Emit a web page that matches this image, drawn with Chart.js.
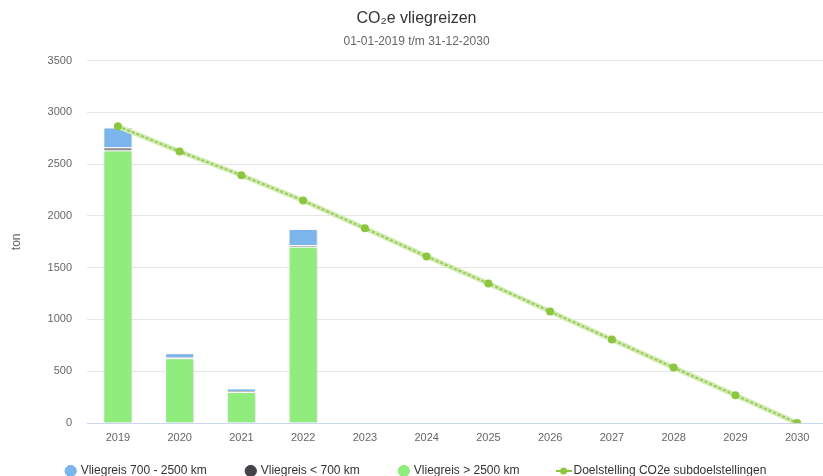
<!DOCTYPE html>
<html>
<head>
<meta charset="utf-8">
<script src="https://cdn.jsdelivr.net/npm/chart.js@4.4.0/dist/chart.umd.min.js"></script>
<style>
  html, body { margin: 0; padding: 0; background: #fff; overflow: hidden; }
</style>
</head>
<body>
<canvas id="grafiek" width="848" height="476"></canvas>
<script>
// --- data ---
const jaren = ['2019', '2020', '2021', '2022', '2023', '2024', '2025', '2026', '2027', '2028', '2029', '2030'];
const vlucht700tot2500 = [190, 40, 24, 156, null, null, null, null, null, null, null, null];
const vluchtOnder700 = [32, 8, 8, 15, null, null, null, null, null, null, null, null];
const vluchtBoven2500 = [2632, 625, 300, 1703, null, null, null, null, null, null, null, null];
const doelstelling = [2865, 2622, 2393, 2148, 1880, 1609, 1348, 1077, 806, 535, 269, 0];
const yMax = 3500;
const yStap = 500;

const lettertype = '"Liberation Sans", Arial, Helvetica, sans-serif';
const groen = '#8cc63f';

// symbool voor de lijn in de legenda: streepje met bolletje
const lijnSymbool = document.createElement('canvas');
lijnSymbool.width = 16;
lijnSymbool.height = 10;
(function () {
    const c = lijnSymbool.getContext('2d');
    c.strokeStyle = groen;
    c.lineWidth = 2;
    c.beginPath(); c.moveTo(0, 5); c.lineTo(16, 5); c.stroke();
    c.fillStyle = groen;
    c.beginPath(); c.arc(8, 5, 3.5, 0, Math.PI * 2); c.fill();
})();

// schaduw rond de kolommen (zoals Highcharts)
const kolomSchaduw = {
    id: 'kolomSchaduw',
    beforeDatasetDraw(chart, args) {
        if (args.meta.type !== 'bar') return;
        const ctx = chart.ctx;
        ctx.save();
        ctx.shadowColor = 'rgba(0,0,0,0.18)';
        ctx.shadowBlur = 3;
        ctx.shadowOffsetX = 1;
        ctx.shadowOffsetY = 1;
    },
    afterDatasetDraw(chart, args) {
        if (args.meta.type !== 'bar') return;
        chart.ctx.restore();
    }
};

const legendaVolgorde = { 2: 0, 1: 1, 0: 2, 3: 3 };

new Chart(document.getElementById('grafiek'), {
    data: {
        labels: jaren,
        datasets: [
            { type: 'bar', label: 'Vliegreis > 2500 km', data: vluchtBoven2500, backgroundColor: '#90ed7d', borderColor: '#ffffff', borderWidth: 1, stack: 'vlucht', order: 0 },
            { type: 'bar', label: 'Vliegreis < 700 km', data: vluchtOnder700, backgroundColor: '#8e8e90', legendKleur: '#434348', borderColor: '#ffffff', borderWidth: 1, stack: 'vlucht', order: 0 },
            { type: 'bar', label: 'Vliegreis 700 - 2500 km', data: vlucht700tot2500, backgroundColor: '#7cb5ec', borderColor: '#ffffff', borderWidth: 1, stack: 'vlucht', order: 0 },
            { type: 'line', label: 'Doelstelling CO2e subdoelstellingen', data: doelstelling, borderColor: '#98cd55', borderWidth: 2, borderDash: [3, 2], pointRadius: 4, pointBackgroundColor: groen, pointBorderWidth: 0, stack: 'doel', order: -2 },
            { type: 'line', label: 'achtergrond', data: doelstelling, borderColor: '#d4ebb6', borderWidth: 5, pointRadius: 0, stack: 'doel2', order: -1 }
        ]
    },
    options: {
        responsive: false,
        animation: false,
        layout: { padding: { left: 5, right: 20, top: 0, bottom: -11 } },
        datasets: { bar: { barPercentage: 0.47, categoryPercentage: 1 } },
        scales: {
            x: {
                stacked: true,
                // de labels hangen onder de as, in de lege rand boven de legenda
                afterFit(scale) { scale.height = 2; },
                grid: { display: false, drawTicks: false },
                border: { color: '#ccd6eb' },
                ticks: { color: '#666666', font: { family: lettertype, size: 11 }, mirror: true, padding: -22, maxRotation: 0 }
            },
            y: {
                stacked: true,
                min: 0,
                max: yMax,
                afterFit(scale) { scale.width = 82; },
                grid: { color: '#e6e6e6', drawTicks: false },
                border: { display: false },
                ticks: { stepSize: yStap, color: '#666666', font: { family: lettertype, size: 11 }, padding: 15, callback: v => String(v) },
                title: { display: true, text: 'ton', color: '#666666', font: { family: lettertype, size: 12 }, padding: { top: 4, bottom: 0 } }
            }
        },
        plugins: {
            tooltip: { enabled: false },
            title: {
                display: true,
                text: 'CO\u2082e vliegreizen',
                color: '#333333',
                font: { family: lettertype, size: 16, weight: 'normal' },
                padding: { top: 9, bottom: 6 }
            },
            subtitle: {
                display: true,
                text: '01-01-2019 t/m 31-12-2030',
                color: '#666666',
                font: { family: lettertype, size: 12 },
                padding: { top: 0, bottom: 12 }
            },
            legend: {
                position: 'bottom',
                labels: {
                    color: '#333333',
                    font: { family: lettertype, size: 12 },
                    usePointStyle: true,
                    boxWidth: 8,
                    boxHeight: 8,
                    padding: 40,
                    filter: item => item.datasetIndex !== 4,
                    sort: (a, b) => legendaVolgorde[a.datasetIndex] - legendaVolgorde[b.datasetIndex],
                    generateLabels(chart) {
                        const items = Chart.defaults.plugins.legend.labels.generateLabels(chart);
                        items.forEach(item => {
                            const ds = chart.data.datasets[item.datasetIndex];
                            if (ds.legendKleur) { item.fillStyle = ds.legendKleur; }
                            if (ds.type === 'bar') { item.strokeStyle = item.fillStyle; }
                            if (ds.type === 'line') { item.pointStyle = lijnSymbool; }
                        });
                        return items;
                    }
                }
            }
        }
    },
    plugins: [kolomSchaduw]
});
</script>
</body>
</html>
